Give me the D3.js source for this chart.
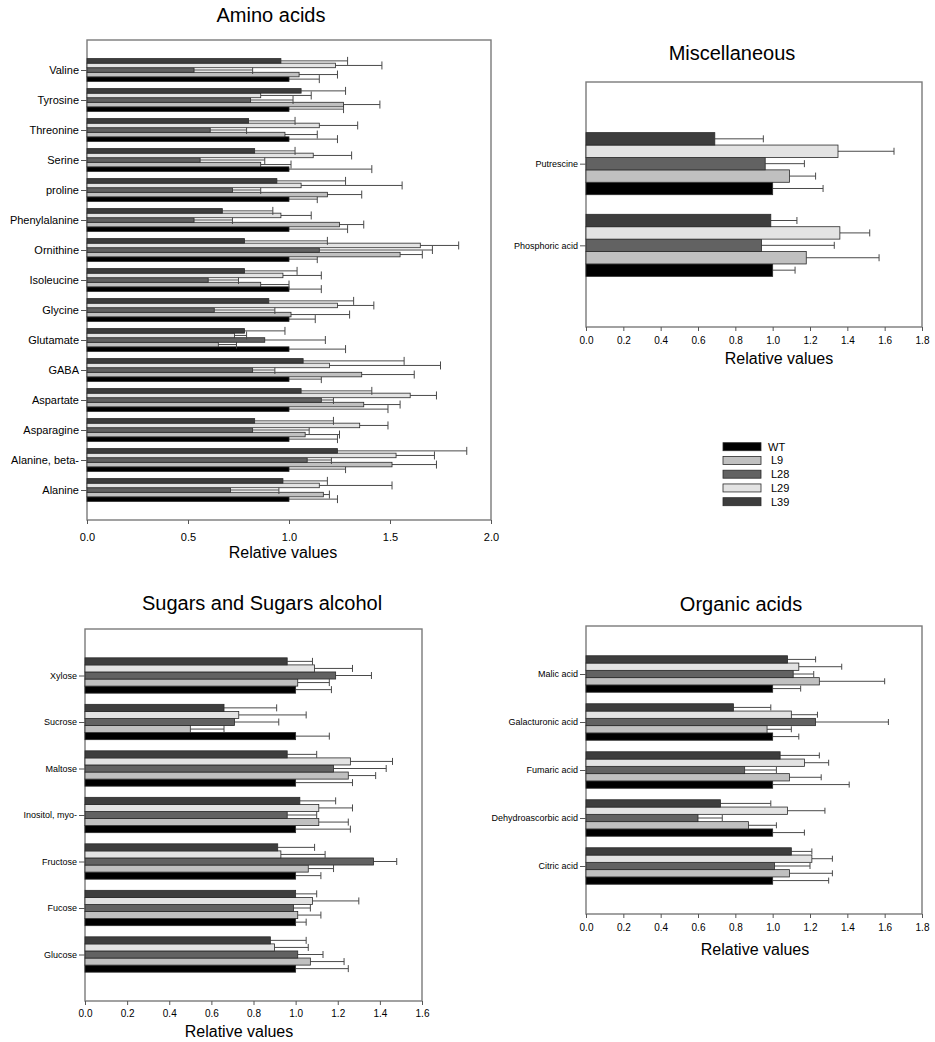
<!DOCTYPE html>
<html><head><meta charset="utf-8">
<script src="https://cdn.jsdelivr.net/npm/d3@7"></script>
<style>
body{margin:0;background:#fff}
svg{display:block}
text{font-family:"Liberation Sans",Arial,Helvetica,sans-serif;fill:#000}
</style>
</head><body>
<svg id="c" width="935" height="1042"></svg>
<script>
// ---------------- DATA ----------------
const seriesNames = ["WT", "L9", "L28", "L29", "L39"];

// Amino acids (top to bottom)
const aminoCategories = ["Valine","Tyrosine","Threonine","Serine","proline","Phenylalanine","Ornithine","Isoleucine","Glycine","Glutamate","GABA","Aspartate","Asparagine","Alanine, beta-","Alanine"];
const aminoWT     = [1.00,1.00,1.00,1.00,1.00,1.00,1.00,1.00,1.00,1.00,1.00,1.00,1.00,1.00,1.00];
const aminoWTErr  = [0.15,0.27,0.24,0.41,0.14,0.29,0.14,0.16,0.13,0.28,0.16,0.49,0.24,0.28,0.24];
const aminoL9     = [1.05,1.27,0.98,0.86,1.19,1.25,1.55,0.86,1.01,0.65,1.36,1.37,1.08,1.51,1.17];
const aminoL9Err  = [0.19,0.18,0.16,0.15,0.17,0.12,0.11,0.14,0.29,0.09,0.26,0.18,0.17,0.22,0.03];
const aminoL28    = [0.53,0.81,0.61,0.56,0.72,0.53,1.15,0.60,0.63,0.88,0.82,1.16,0.82,1.09,0.71];
const aminoL28Err = [0.29,0.21,0.18,0.32,0.14,0.19,0.56,0.15,0.30,0.30,0.11,0.06,0.28,0.12,0.24];
const aminoL29    = [1.23,0.86,1.15,1.12,1.06,0.96,1.65,0.97,1.24,0.73,1.20,1.60,1.35,1.53,1.15];
const aminoL29Err = [0.23,0.25,0.19,0.19,0.50,0.15,0.19,0.19,0.18,0.06,0.55,0.13,0.14,0.19,0.36];
const aminoL39    = [0.96,1.06,0.80,0.83,0.94,0.67,0.78,0.78,0.90,0.78,1.07,1.06,0.83,1.24,0.97];
const aminoL39Err = [0.33,0.22,0.23,0.20,0.34,0.25,0.41,0.26,0.42,0.20,0.50,0.35,0.39,0.64,0.22];
const aminoTicks  = [0.0,0.5,1.0,1.5,2.0];

// Miscellaneous
const miscCategories = ["Putrescine","Phosphoric acid"];
const miscWT     = [1.00,1.00];
const miscWTErr  = [0.27,0.12];
const miscL9     = [1.09,1.18];
const miscL9Err  = [0.14,0.39];
const miscL28    = [0.96,0.94];
const miscL28Err = [0.21,0.39];
const miscL29    = [1.35,1.36];
const miscL29Err = [0.30,0.16];
const miscL39    = [0.69,0.99];
const miscL39Err = [0.26,0.14];
const miscTicks  = [0.0,0.2,0.4,0.6,0.8,1.0,1.2,1.4,1.6,1.8];

// Sugars and sugar alcohols
const sugarCategories = ["Xylose","Sucrose","Maltose","Inositol, myo-","Fructose","Fucose","Glucose"];
const sugarWT     = [1.00,1.00,1.00,1.00,1.00,1.00,1.00];
const sugarWTErr  = [0.17,0.16,0.27,0.26,0.12,0.05,0.25];
const sugarL9     = [1.01,0.50,1.25,1.11,1.06,1.01,1.07];
const sugarL9Err  = [0.15,0.16,0.13,0.14,0.12,0.11,0.16];
const sugarL28    = [1.19,0.71,1.18,0.96,1.37,0.99,1.01];
const sugarL28Err = [0.17,0.21,0.25,0.14,0.11,0.08,0.12];
const sugarL29    = [1.09,0.73,1.26,1.11,0.93,1.08,0.90];
const sugarL29Err = [0.18,0.32,0.20,0.16,0.21,0.22,0.16];
const sugarL39    = [0.96,0.66,0.96,1.02,0.915,1.00,0.88];
const sugarL39Err = [0.12,0.25,0.14,0.17,0.175,0.10,0.17];
const sugarTicks  = [0.0,0.2,0.4,0.6,0.8,1.0,1.2,1.4,1.6];

// Organic acids
const organicCategories = ["Malic acid","Galacturonic acid","Fumaric acid","Dehydroascorbic acid","Citric acid"];
const organicWT     = [1.00,1.00,1.00,1.00,1.00];
const organicWTErr  = [0.15,0.14,0.41,0.17,0.30];
const organicL9     = [1.25,0.97,1.09,0.87,1.09];
const organicL9Err  = [0.35,0.13,0.17,0.15,0.23];
const organicL28    = [1.11,1.23,0.85,0.60,1.01];
const organicL28Err = [0.11,0.39,0.17,0.13,0.19];
const organicL29    = [1.14,1.10,1.17,1.08,1.21];
const organicL29Err = [0.23,0.14,0.13,0.20,0.11];
const organicL39    = [1.08,0.79,1.04,0.72,1.10];
const organicL39Err = [0.15,0.20,0.21,0.27,0.11];
const organicTicks  = [0.0,0.2,0.4,0.6,0.8,1.0,1.2,1.4,1.6,1.8];

// ---------------- STYLE ----------------
const fills = {WT:"#000000", L9:"#c0c0c0", L28:"#626262", L29:"#e3e3e3", L39:"#3d3d3d"};
const svg = d3.select("#c");

function panel(o){
  const g = svg.append("g");
  const x = d3.scaleLinear().domain([0, o.max]).range([o.x0, o.x1]);
  const y = d3.scalePoint().domain(o.cats).range([o.y0, o.y1]).padding(1);
  const bh = y.step() * 0.152;

  // frame
  g.append("rect").attr("x", o.x0).attr("y", o.y0)
    .attr("width", o.x1 - o.x0).attr("height", o.y1 - o.y0)
    .attr("fill", "none").attr("stroke", "#7a7a7a").attr("stroke-width", 1.4);

  o.series.forEach((s, i) => {
    const off = (2 - i) * bh;
    const rows = o.cats.map((c, k) => ({c, v: s.vals[k], e: s.errs[k]}));
    const gs = g.append("g");
    // error bars
    gs.selectAll("line.eb").data(rows).join("line")
      .attr("x1", d => x(d.v)).attr("x2", d => x(d.v + d.e))
      .attr("y1", d => y(d.c) + off).attr("y2", d => y(d.c) + off)
      .attr("stroke", "#4a4a4a").attr("stroke-width", 1);
    gs.selectAll("line.cap").data(rows).join("line")
      .attr("x1", d => x(d.v + d.e)).attr("x2", d => x(d.v + d.e))
      .attr("y1", d => y(d.c) + off - o.cap).attr("y2", d => y(d.c) + off + o.cap)
      .attr("stroke", "#4a4a4a").attr("stroke-width", 1);
    // bars
    gs.selectAll("rect").data(rows).join("rect")
      .attr("x", x(0)).attr("y", d => y(d.c) + off - bh / 2)
      .attr("width", d => x(d.v) - x(0)).attr("height", bh)
      .attr("fill", fills[s.name]).attr("stroke", "#2a2a2a").attr("stroke-width", 0.8);
  });

  // axes
  const ax = g.append("g").attr("transform", `translate(0,${o.y1})`)
    .call(d3.axisBottom(x).tickValues(o.ticks).tickFormat(d3.format(".1f")).tickSize(4).tickPadding(o.tickPad));
  ax.select(".domain").remove();
  ax.selectAll("line").attr("stroke", "#555");
  ax.selectAll("text").style("font-size", o.tickFont + "px").attr("fill", "#000");

  const ay = g.append("g").attr("transform", `translate(${o.x0},0)`)
    .call(d3.axisLeft(y).tickSize(6).tickPadding(2));
  ay.select(".domain").remove();
  ay.selectAll("line").attr("stroke", "#555");
  ay.selectAll("text").style("font-size", o.catFont + "px").attr("fill", "#000");

  // title & x label
  g.append("text").attr("x", o.titleX).attr("y", o.titleY).attr("text-anchor", "middle")
    .style("font-size", "20px").text(o.title);
  g.append("text").attr("x", o.labelX).attr("y", o.labelY).attr("text-anchor", "middle")
    .style("font-size", "16px").text("Relative values");
}

function mk(names, vals, errs){ return names.map((n, i) => ({name: n, vals: vals[i], errs: errs[i]})); }

panel({
  cats: aminoCategories, max: 2.0, ticks: aminoTicks,
  series: mk(seriesNames, [aminoWT, aminoL9, aminoL28, aminoL29, aminoL39], [aminoWTErr, aminoL9Err, aminoL28Err, aminoL29Err, aminoL39Err]),
  x0: 87, x1: 491, y0: 40, y1: 520, cap: 4, tickPad: 9, tickFont: 11, catFont: 11,
  title: "Amino acids", titleX: 271, titleY: 22, labelX: 283, labelY: 558
});
panel({
  cats: miscCategories, max: 1.8, ticks: miscTicks,
  series: mk(seriesNames, [miscWT, miscL9, miscL28, miscL29, miscL39], [miscWTErr, miscL9Err, miscL28Err, miscL29Err, miscL39Err]),
  x0: 586, x1: 922, y0: 82, y1: 327, cap: 3.5, tickPad: 5.5, tickFont: 10, catFont: 9,
  title: "Miscellaneous", titleX: 732, titleY: 60, labelX: 779, labelY: 364
});
panel({
  cats: sugarCategories, max: 1.6, ticks: sugarTicks,
  series: mk(seriesNames, [sugarWT, sugarL9, sugarL28, sugarL29, sugarL39], [sugarWTErr, sugarL9Err, sugarL28Err, sugarL29Err, sugarL39Err]),
  x0: 85, x1: 422, y0: 629, y1: 1001, cap: 3.5, tickPad: 4.5, tickFont: 10, catFont: 9,
  title: "Sugars and Sugars alcohol", titleX: 262, titleY: 610, labelX: 239, labelY: 1037
});
panel({
  cats: organicCategories, max: 1.8, ticks: organicTicks,
  series: mk(seriesNames, [organicWT, organicL9, organicL28, organicL29, organicL39], [organicWTErr, organicL9Err, organicL28Err, organicL29Err, organicL39Err]),
  x0: 586, x1: 922, y0: 626, y1: 914, cap: 3, tickPad: 5.5, tickFont: 10, catFont: 9,
  title: "Organic acids", titleX: 741, titleY: 611, labelX: 755, labelY: 955
});

// legend
const lg = svg.append("g");
const ly = d3.scalePoint().domain(seriesNames).range([446.7, 501.7]);
lg.selectAll("rect").data(seriesNames).join("rect")
  .attr("x", 723).attr("y", d => ly(d) - 4).attr("width", 38).attr("height", 8)
  .attr("fill", d => fills[d]).attr("stroke", "#2a2a2a").attr("stroke-width", 0.8);
lg.selectAll("text").data(seriesNames).join("text")
  .attr("x", d => d === "WT" ? 768 : 771).attr("y", d => ly(d)).attr("dy", "0.36em")
  .style("font-size", "11px").text(d => d);
</script>
</body></html>
